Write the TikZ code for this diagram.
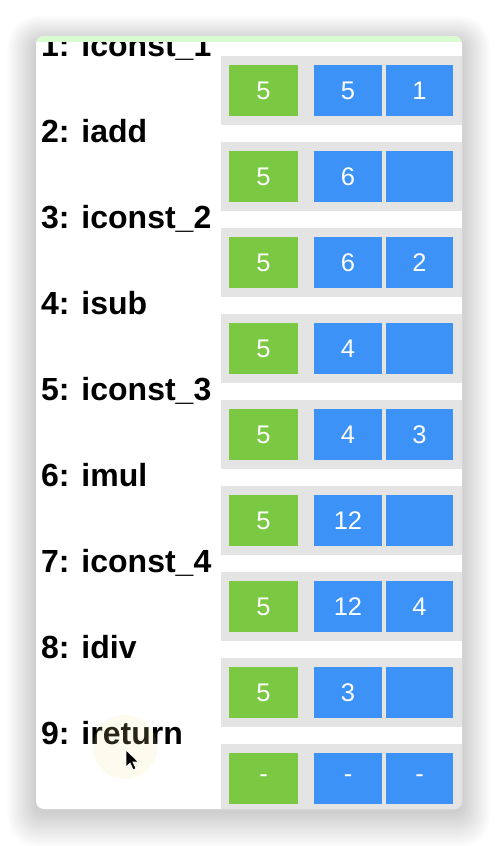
\documentclass[tikz,border=0pt]{standalone}
\usepackage{fontspec}
\setmainfont{Liberation Sans}
\definecolor{jgreen}{HTML}{7BC843}
\definecolor{jblue}{HTML}{3C92F7}
\definecolor{jpanel}{HTML}{E4E4E4}
\definecolor{jstrip}{HTML}{D8FBD0}
\definecolor{jhalo}{HTML}{F6EC90}
\tikzset{
  cellbox/.style={inner sep=0pt, text=white, font=\fontsize{25.5}{25.5}\selectfont, minimum height=51pt},
  gbox/.style={cellbox, fill=jgreen, minimum width=69pt},
  abox/.style={cellbox, fill=jblue, minimum width=68pt},
  bbox/.style={cellbox, fill=jblue, minimum width=67pt},
  oplabel/.style={inner sep=0pt, anchor=base west, font=\bfseries\fontsize{32}{32}\selectfont},
  panel/.style={fill=jpanel}
}
\begin{document}
\begin{tikzpicture}[x=1pt,y=-1pt]
\useasboundingbox (0,0) rectangle (498,846);
% soft shadow
\foreach \i in {1,...,24} {
  \fill[black, opacity=0.008, rounded corners=8+\i] (36-1.2*\i, 42-1.1*\i) rectangle (462+1.2*\i, 812+1.5*\i);
}
% card
\fill[white, rounded corners=8pt] (36,36) rectangle (462,809);
\begin{scope}
\clip[rounded corners=8pt] (36,36) rectangle (462,809);
\foreach \k/\t/\a/\b/\c in {
  0/1: iconst\_1/5/5/1,
  1/2: iadd/5/6/,
  2/3: iconst\_2/5/6/2,
  3/4: isub/5/4/,
  4/5: iconst\_3/5/4/3,
  5/6: imul/5/12/,
  6/7: iconst\_4/5/12/4,
  7/8: idiv/5/3/,
  8/9: ireturn/-/-/-} {
  \fill[panel] (221,56+86*\k) rectangle (470,125+86*\k);
  \node[gbox] (g\k) at (263.5,90.5+86*\k) {\a};
  \node[abox] (a\k) at (348,90.5+86*\k) {\b};
  \node[bbox] (b\k) at (419.5,90.5+86*\k) {\c};
  \node[oplabel] (l\k) at (41,56.7+86*\k) {\t};
}
\fill[jstrip] (30,30) rectangle (470,41.5);
\end{scope}
% cursor halo and pointer
\fill[jhalo, opacity=0.16] (125,747) circle (32pt);
\fill[black, draw=white, line width=0.7pt, line join=miter]
  (126,750) -- ++(0,17) -- ++(4,-4) -- ++(3.2,6.8) -- ++(2.8,-1.3) -- ++(-3.1,-6.5) -- ++(5.6,0) -- cycle;
\end{tikzpicture}
\end{document}
